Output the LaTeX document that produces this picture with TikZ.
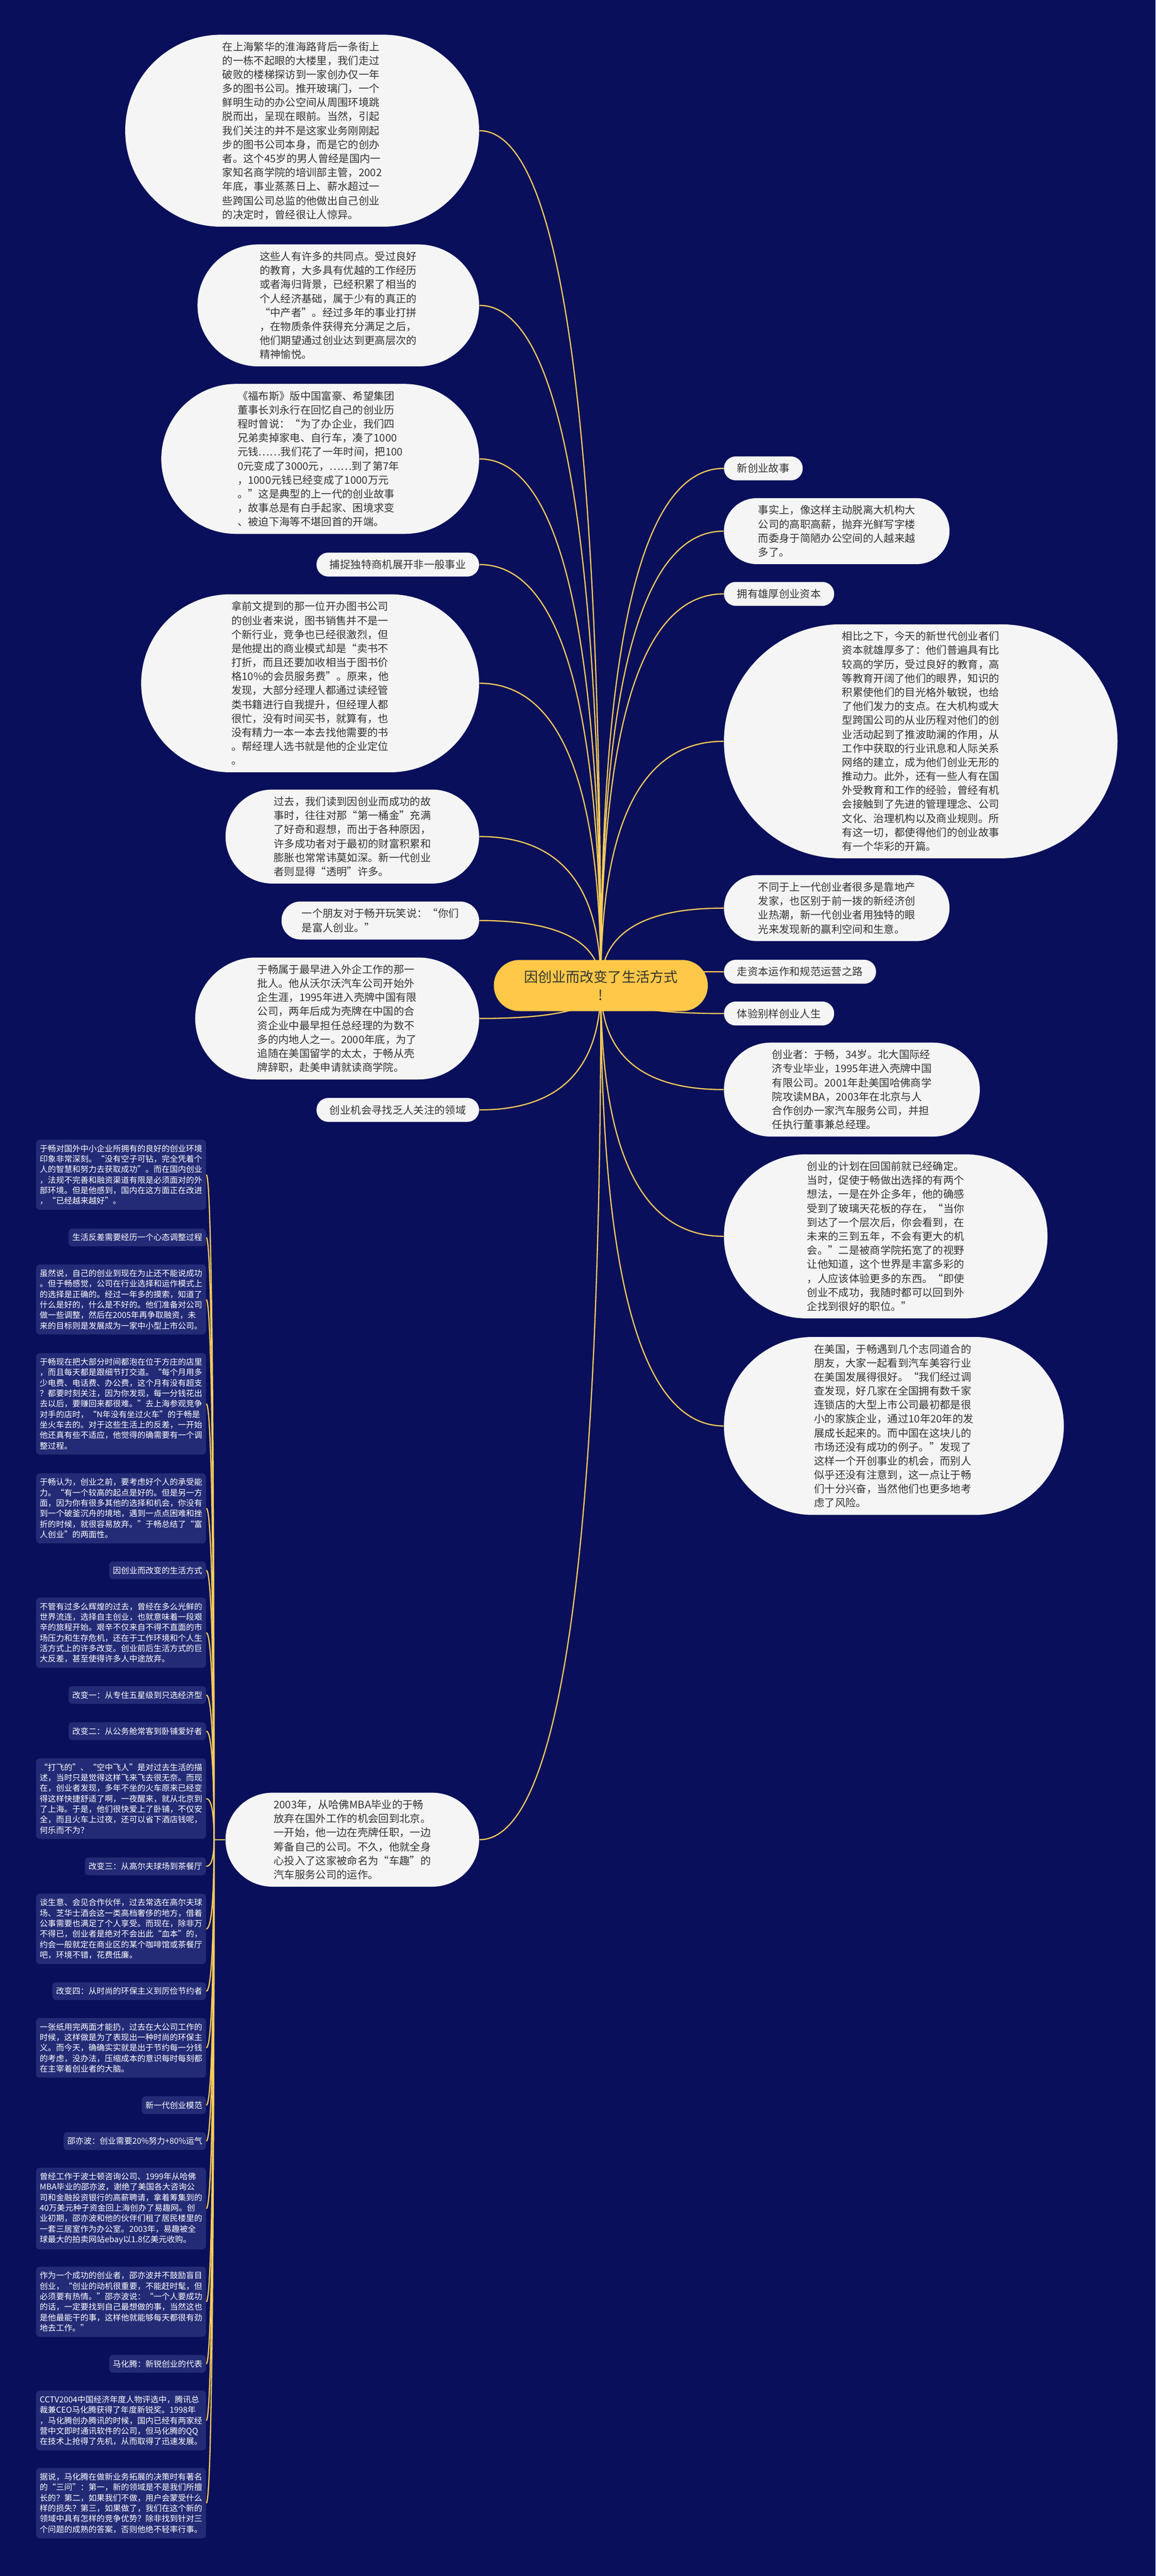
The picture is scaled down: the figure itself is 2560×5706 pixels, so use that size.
\documentclass[tikz,border=0pt]{standalone}
\usepackage{fontspec}
\setmainfont{Noto Sans CJK SC}
\usetikzlibrary{calc}
\definecolor{navy}{RGB}{9,15,90}
\definecolor{notefill}{RGB}{36,43,118}
\definecolor{topicyellow}{RGB}{255,200,72}
\definecolor{linkyellow}{RGB}{250,204,88}
\definecolor{leafwhite}{RGB}{245,245,245}
\definecolor{textgray}{RGB}{51,51,51}
\pgfdeclarelayer{backdrop}
\pgfdeclarelayer{links}
\pgfsetlayers{backdrop,links,main}
\newcommand\linkto[2]{\draw[my link] (#1) .. controls ($(#1)!0.667!(#1 |- #2)$) and ($(#2)!0.667!(#1 |- #2)$) .. (#2);}

\begin{document}
\begin{tikzpicture}[x=0.01cm,y=-0.01cm,
  my topic/.style={rectangle, fill=topicyellow, text=textgray,
    font=\fontsize{8.8pt}{11.4pt}\selectfont, align=center,
    minimum height=32.2pt, rounded corners=16pt, inner xsep=19pt, inner ysep=6pt},
  % #1 = number of text lines
  my leaf/.style={rectangle, fill=leafwhite, text=textgray,
    font=\fontsize{6.6pt}{8.82pt}\selectfont, align=left,
    minimum height={#1*8.82pt+6.26pt}, rounded corners={#1*4.41pt+3.03pt},
    inner xsep={#1*4.41pt+3.9pt}, inner ysep=3pt},
  my note/.style={rectangle, rounded corners=2.3pt, fill=notefill, text=white, anchor=east,
    font=\fontsize{5.12pt}{6.6pt}\selectfont, align=left, inner xsep=2.3pt, inner ysep=3.2pt},
  my link/.style={draw=linkyellow, line width=0.75pt},
  ]
  \useasboundingbox (0,0) rectangle (2560,5706);
  \begin{pgfonlayer}{backdrop}
    \fill[navy] (0,0) rectangle (2560,5706);
  \end{pgfonlayer}

  \node[my topic] (root) at (1331,2183) {因创业而改变了生活方式\\!};

  % right side
  \node[my leaf=1, anchor=west] (r1) at (1603,1037.5) {新创业故事};
  \node[my leaf=4, anchor=west] (r2) at (1603,1176.5) {事实上，像这样主动脱离大机构大\\公司的高职高薪，抛弃光鲜写字楼\\而委身于简陋办公空间的人越来越\\多了。};
  \node[my leaf=1, anchor=west] (r3) at (1603,1315.5) {拥有雄厚创业资本};
  \node[my leaf=16, anchor=west] (r4) at (1603,1642) {相比之下，今天的新世代创业者们\\资本就雄厚多了：他们普遍具有比\\较高的学历，受过良好的教育，高\\等教育开阔了他们的眼界，知识的\\积累使他们的目光格外敏锐，也给\\了他们发力的支点。在大机构或大\\型跨国公司的从业历程对他们的创\\业活动起到了推波助澜的作用，从\\工作中获取的行业讯息和人际关系\\网络的建立，成为他们创业无形的\\推动力。此外，还有一些人有在国\\外受教育和工作的经验，曾经有机\\会接触到了先进的管理理念、公司\\文化、治理机构以及商业规则。所\\有这一切，都使得他们的创业故事\\有一个华彩的开篇。};
  \node[my leaf=4, anchor=west] (r5) at (1603,2011.5) {不同于上一代创业者很多是靠地产\\发家，也区别于前一拨的新经济创\\业热潮，新一代创业者用独特的眼\\光来发现新的赢利空间和生意。};
  \node[my leaf=1, anchor=west] (r6) at (1603,2152.5) {走资本运作和规范运营之路};
  \node[my leaf=1, anchor=west] (r7) at (1603,2245) {体验别样创业人生};
  \node[my leaf=6, anchor=west] (r8) at (1603,2413.5) {创业者：于畅，34岁。北大国际经\\济专业毕业，1995年进入壳牌中国\\有限公司。2001年赴美国哈佛商学\\院攻读MBA，2003年在北京与人\\合作创办一家汽车服务公司，并担\\任执行董事兼总经理。};
  \node[my leaf=11, anchor=west] (r9) at (1603,2738.5) {创业的计划在回国前就已经确定。\\当时，促使于畅做出选择的有两个\\想法，一是在外企多年，他的确感\\受到了玻璃天花板的存在，“当你\\到达了一个层次后，你会看到，在\\未来的三到五年，不会有更大的机\\会。”二是被商学院拓宽了的视野\\让他知道，这个世界是丰富多彩的\\，人应该体验更多的东西。“即使\\创业不成功，我随时都可以回到外\\企找到很好的职位。”};
  \node[my leaf=12, anchor=west] (r10) at (1603,3158.5) {在美国，于畅遇到几个志同道合的\\朋友，大家一起看到汽车美容行业\\在美国发展得很好。“我们经过调\\查发现，好几家在全国拥有数千家\\连锁店的大型上市公司最初都是很\\小的家族企业，通过10年20年的发\\展成长起来的。而中国在这块儿的\\市场还没有成功的例子。”发现了\\这样一个开创事业的机会，而别人\\似乎还没有注意到，这一点让于畅\\们十分兴奋，当然他们也更多地考\\虑了风险。};

  % left side
  \node[my leaf=13, anchor=east] (l1) at (1062,289.5) {在上海繁华的淮海路背后一条街上\\的一栋不起眼的大楼里，我们走过\\破败的楼梯探访到一家创办仅一年\\多的图书公司。推开玻璃门，一个\\鲜明生动的办公空间从周围环境跳\\脱而出，呈现在眼前。当然，引起\\我们关注的并不是这家业务刚刚起\\步的图书公司本身，而是它的创办\\者。这个45岁的男人曾经是国内一\\家知名商学院的培训部主管，2002\\年底，事业蒸蒸日上、薪水超过一\\些跨国公司总监的他做出自己创业\\的决定时，曾经很让人惊异。};
  \node[my leaf=8, anchor=east] (l2) at (1062,676.5) {这些人有许多的共同点。受过良好\\的教育，大多具有优越的工作经历\\或者海归背景，已经积累了相当的\\个人经济基础，属于少有的真正的\\“中产者”。经过多年的事业打拼\\，在物质条件获得充分满足之后，\\他们期望通过创业达到更高层次的\\精神愉悦。};
  \node[my leaf=10, anchor=east] (l3) at (1062,1016.5) {《福布斯》版中国富豪、希望集团\\董事长刘永行在回忆自己的创业历\\程时曾说：“为了办企业，我们四\\兄弟卖掉家电、自行车，凑了1000\\元钱……我们花了一年时间，把100\\0元变成了3000元，……到了第7年\\，1000元钱已经变成了1000万元\\。”这是典型的上一代的创业故事\\，故事总是有白手起家、困境求变\\、被迫下海等不堪回首的开端。};
  \node[my leaf=1, anchor=east] (l4) at (1062,1250.5) {捕捉独特商机展开非一般事业};
  \node[my leaf=12, anchor=east] (l5) at (1062,1513.5) {拿前文提到的那一位开办图书公司\\的创业者来说，图书销售并不是一\\个新行业，竞争也已经很激烈，但\\是他提出的商业模式却是“卖书不\\打折，而且还要加收相当于图书价\\格10\%的会员服务费”。原来，他\\发现，大部分经理人都通过读经管\\类书籍进行自我提升，但经理人都\\很忙，没有时间买书，就算有，也\\没有精力一本一本去找他需要的书\\。帮经理人选书就是他的企业定位\\。};
  \node[my leaf=6, anchor=east] (l6) at (1062,1853) {过去，我们读到因创业而成功的故\\事时，往往对那“第一桶金”充满\\了好奇和遐想，而出于各种原因，\\许多成功者对于最初的财富积累和\\膨胀也常常讳莫如深。新一代创业\\者则显得“透明”许多。};
  \node[my leaf=2, anchor=east] (l7) at (1062,2039) {一个朋友对于畅开玩笑说：“你们\\是富人创业。”};
  \node[my leaf=8, anchor=east] (l8) at (1062,2256) {于畅属于最早进入外企工作的那一\\批人。他从沃尔沃汽车公司开始外\\企生涯，1995年进入壳牌中国有限\\公司，两年后成为壳牌在中国的合\\资企业中最早担任总经理的为数不\\多的内地人之一。2000年底，为了\\追随在美国留学的太太，于畅从壳\\牌辞职，赴美申请就读商学院。};
  \node[my leaf=1, anchor=east] (l9) at (1062,2458.5) {创业机会寻找乏人关注的领域};
  \node[my leaf=6, anchor=east] (l10) at (1062,4075) {2003年，从哈佛MBA毕业的于畅\\放弃在国外工作的机会回到北京。\\一开始，他一边在壳牌任职，一边\\筹备自己的公司。不久，他就全身\\心投入了这家被命名为“车趣”的\\汽车服务公司的运作。};
  \coordinate (hub) at (474,4075);

  % notes under the 2003 node
  \node[my note] (c1) at (457,2602) {于畅对国外中小企业所拥有的良好的创业环境\\印象非常深刻。“没有空子可钻，完全凭着个\\人的智慧和努力去获取成功”。而在国内创业\\，法规不完善和融资渠道有限是必须面对的外\\部环境。但是他感到，国内在这方面正在改进\\，“已经越来越好”。};
  \node[my note] (c2) at (457,2741) {生活反差需要经历一个心态调整过程};
  \node[my note] (c3) at (457,2878.5) {虽然说，自己的创业到现在为止还不能说成功\\。但于畅感觉，公司在行业选择和运作模式上\\的选择是正确的。经过一年多的摸索，知道了\\什么是好的，什么是不好的。他们准备对公司\\做一些调整，然后在2005年再争取融资，未\\来的目标则是发展成为一家中小型上市公司。};
  \node[my note] (c4) at (457,3109.5) {于畅现在把大部分时间都泡在位于方庄的店里\\，而且每天都是跟细节打交道。“每个月用多\\少电费、电话费、办公费，这个月有没有超支\\？都要时刻关注，因为你发现，每一分钱花出\\去以后，要赚回来都很难。”去上海参观竞争\\对手的店时，“N年没有坐过火车”的于畅是\\坐火车去的。对于这些生活上的反差，一开始\\他还真有些不适应，他觉得的确需要有一个调\\整过程。};
  \node[my note] (c5) at (457,3341) {于畅认为，创业之前，要考虑好个人的承受能\\力。“有一个较高的起点是好的。但是另一方\\面，因为你有很多其他的选择和机会，你没有\\到一个破釜沉舟的境地，遇到一点点困难和挫\\折的时候，就很容易放弃。”于畅总结了“富\\人创业”的两面性。};
  \node[my note] (c6) at (457,3478.5) {因创业而改变的生活方式};
  \node[my note] (c7) at (457,3616.5) {不管有过多么辉煌的过去，曾经在多么光鲜的\\世界流连，选择自主创业，也就意味着一段艰\\辛的旅程开始。艰辛不仅来自不得不直面的市\\场压力和生存危机，还在于工作环境和个人生\\活方式上的许多改变。创业前后生活方式的巨\\大反差，甚至使得许多人中途放弃。};
  \node[my note] (c8) at (457,3754.5) {改变一：从专住五星级到只选经济型};
  \node[my note] (c9) at (457,3834.5) {改变二：从公务舱常客到卧铺爱好者};
  \node[my note] (c10) at (457,3984) {“打飞的”、“空中飞人”是对过去生活的描\\述，当时只是觉得这样飞来飞去很无奈。而现\\在，创业者发现，多年不坐的火车原来已经变\\得这样快捷舒适了啊，一夜醒来，就从北京到\\了上海。于是，他们很快爱上了卧铺，不仅安\\全，而且火车上过夜，还可以省下酒店钱呢，\\何乐而不为？};
  \node[my note] (c11) at (457,4134) {改变三：从高尔夫球场到茶餐厅};
  \node[my note] (c12) at (457,4272.5) {谈生意、会见合作伙伴，过去常选在高尔夫球\\场、芝华士酒会这一类高档奢侈的地方，借着\\公事需要也满足了个人享受。而现在，除非万\\不得已，创业者是绝对不会出此“血本”的，\\约会一般就定在商业区的某个咖啡馆或茶餐厅\\吧，环境不错，花费低廉。};
  \node[my note] (c13) at (457,4410.5) {改变四：从时尚的环保主义到厉俭节约者};
  \node[my note] (c14) at (457,4536) {一张纸用完两面才能扔，过去在大公司工作的\\时候，这样做是为了表现出一种时尚的环保主\\义。而今天，确确实实就是出于节约每一分钱\\的考虑，没办法，压缩成本的意识每时每刻都\\在主宰着创业者的大脑。};
  \node[my note] (c15) at (457,4663) {新一代创业模范};
  \node[my note] (c16) at (457,4742.5) {邵亦波：创业需要20\%努力+80\%运气};
  \node[my note] (c17) at (457,4892) {曾经工作于波士顿咨询公司、1999年从哈佛\\MBA毕业的邵亦波，谢绝了美国各大咨询公\\司和金融投资银行的高薪聘请，拿着筹集到的\\40万美元种子资金回上海创办了易趣网。创\\业初期，邵亦波和他的伙伴们租了居民楼里的\\一套三居室作为办公室。2003年，易趣被全\\球最大的拍卖网站ebay以1.8亿美元收购。};
  \node[my note] (c18) at (457,5098.5) {作为一个成功的创业者，邵亦波并不鼓励盲目\\创业，“创业的动机很重要，不能赶时髦，但\\必须要有热情。”邵亦波说：“一个人要成功\\的话，一定要找到自己最想做的事，当然这也\\是他最能干的事，这样他就能够每天都很有劲\\地去工作。”};
  \node[my note] (c19) at (457,5236) {马化腾：新锐创业的代表};
  \node[my note] (c20) at (457,5361.5) {CCTV2004中国经济年度人物评选中，腾讯总\\裁兼CEO马化腾获得了年度新锐奖。1998年\\，马化腾创办腾讯的时候，国内已经有两家经\\营中文即时通讯软件的公司，但马化腾的QQ\\在技术上抢得了先机，从而取得了迅速发展。};
  \node[my note] (c21) at (457,5544.5) {据说，马化腾在做新业务拓展的决策时有著名\\的“三问”：第一，新的领域是不是我们所擅\\长的？第二，如果我们不做，用户会蒙受什么\\样的损失？第三，如果做了，我们在这个新的\\领域中具有怎样的竞争优势？除非找到针对三\\个问题的成熟的答案，否则他绝不轻率行事。};

  \begin{pgfonlayer}{links}
    \foreach \i in {1,...,10} {\linkto{root.center}{r\i.west}}
    \foreach \i in {1,...,10} {\linkto{root.center}{l\i.east}}
    \draw[my link] (l10.west) -- (hub);
    \foreach \i in {1,...,21} {\linkto{hub}{c\i.east}}
  \end{pgfonlayer}
\end{tikzpicture}
\end{document}
